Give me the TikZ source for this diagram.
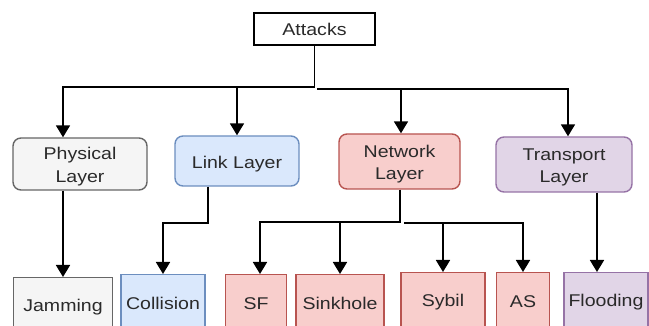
\documentclass[tikz,border=0pt]{standalone}
\usepackage{fontspec}
\setmainfont{Liberation Sans}[FakeStretch=1.15]
\usetikzlibrary{arrows.meta}
\definecolor{txt}{HTML}{2A2A2A}
\definecolor{physF}{HTML}{F5F5F5}\definecolor{physD}{HTML}{666666}
\definecolor{linkF}{HTML}{DAE8FC}\definecolor{linkD}{HTML}{6C8EBF}
\definecolor{netF}{HTML}{F8CECC}\definecolor{netD}{HTML}{B85450}
\definecolor{trF}{HTML}{E1D5E7}\definecolor{trD}{HTML}{9673A6}
\newcommand{\lowr}{\rule{0pt}{18pt}}
\begin{document}
\begin{tikzpicture}[x=1pt,y=-1pt,
  box/.style={draw, line width=1.4pt, inner sep=0pt, align=center,
    font=\fontsize{17}{22.5}\selectfont, text=txt},
  layer/.style={box, rounded corners=8pt},
  leaf/.style={box, anchor=north, minimum height=58pt},
  phys/.style={fill=physF, draw=physD},
  lnk/.style={fill=linkF, draw=linkD},
  net/.style={fill=netF, draw=netD},
  trn/.style={fill=trF, draw=trD},
  conn/.style={line width=1.8pt, draw=black, -{Triangle[width=14pt,length=12pt]}}]
\clip (0,0) rectangle (649,326);
\fill[white] (0,0) rectangle (649,326);

\node[box, draw=black, fill=white, line width=1.8pt, minimum width=121pt, minimum height=32pt] (attacks) at (314.5,29) {Attacks};

\node[layer, phys, minimum width=134pt, minimum height=52pt] (physical) at (80,164) {\lowr Physical\\Layer};
\node[layer, lnk, minimum width=124pt, minimum height=50pt] (link) at (237,161) {\lowr Link Layer};
\node[layer, net, minimum width=121pt, minimum height=55pt] (network) at (399.5,161.5) {\lowr Network\\Layer};
\node[layer, trn, minimum width=136pt, minimum height=55pt] (transport) at (564,164.5) {\lowr Transport\\Layer};

\node[leaf, phys, minimum width=99pt] (jam) at (63,277) {Jamming};
\node[leaf, lnk, minimum width=84pt] (coll) at (163,274) {Collision};
\node[leaf, net, minimum width=61pt] (sf) at (256,274) {SF};
\node[leaf, net, minimum width=88pt] (sink) at (340,274) {Sinkhole};
\node[leaf, net, minimum width=84pt] (sybil) at (443,272) {Sybil};
\node[leaf, net, minimum width=53pt] (as) at (523,272) {AS};
\node[leaf, trn, minimum width=84pt] (flood) at (606,272) {Flooding};

% top level connectors
\coordinate (pL) at (63,87);
\coordinate (lL) at (237,87);
\coordinate (jR) at (317,89);
\coordinate (nR) at (401,89);
\coordinate (tR) at (568,89);
\draw[conn] (attacks.south) |- (pL) -- (pL |- physical.north);
\draw[conn] (lL) -- (lL |- link.north);
\draw[conn] (jR) -- (tR) -- (tR |- transport.north);
\draw[conn] (nR) -- (nR |- network.north);

% second level connectors
\draw[conn] (jam.north |- physical.south) -- (jam.north);
\coordinate (lk) at (208,223);
\draw[conn] (lk |- link.south) -- (lk) -| (coll.north);
\coordinate (nk) at (400,222);
\coordinate (sfa) at (260,222);
\draw[conn] (nk |- network.south) -- (nk) -- (sfa) -- (sfa |- sf.north);
\coordinate (sk) at (340,222);
\draw[conn] (sk) -- (sink.north);
\coordinate (nk2) at (404,223);
\draw[conn] (nk2) -| (as.north);
\coordinate (sy) at (443,223);
\draw[conn] (sy) -- (sybil.north);
\coordinate (fl) at (597,0);
\draw[conn] (fl |- transport.south) -- (fl |- flood.north);
\end{tikzpicture}
\end{document}
